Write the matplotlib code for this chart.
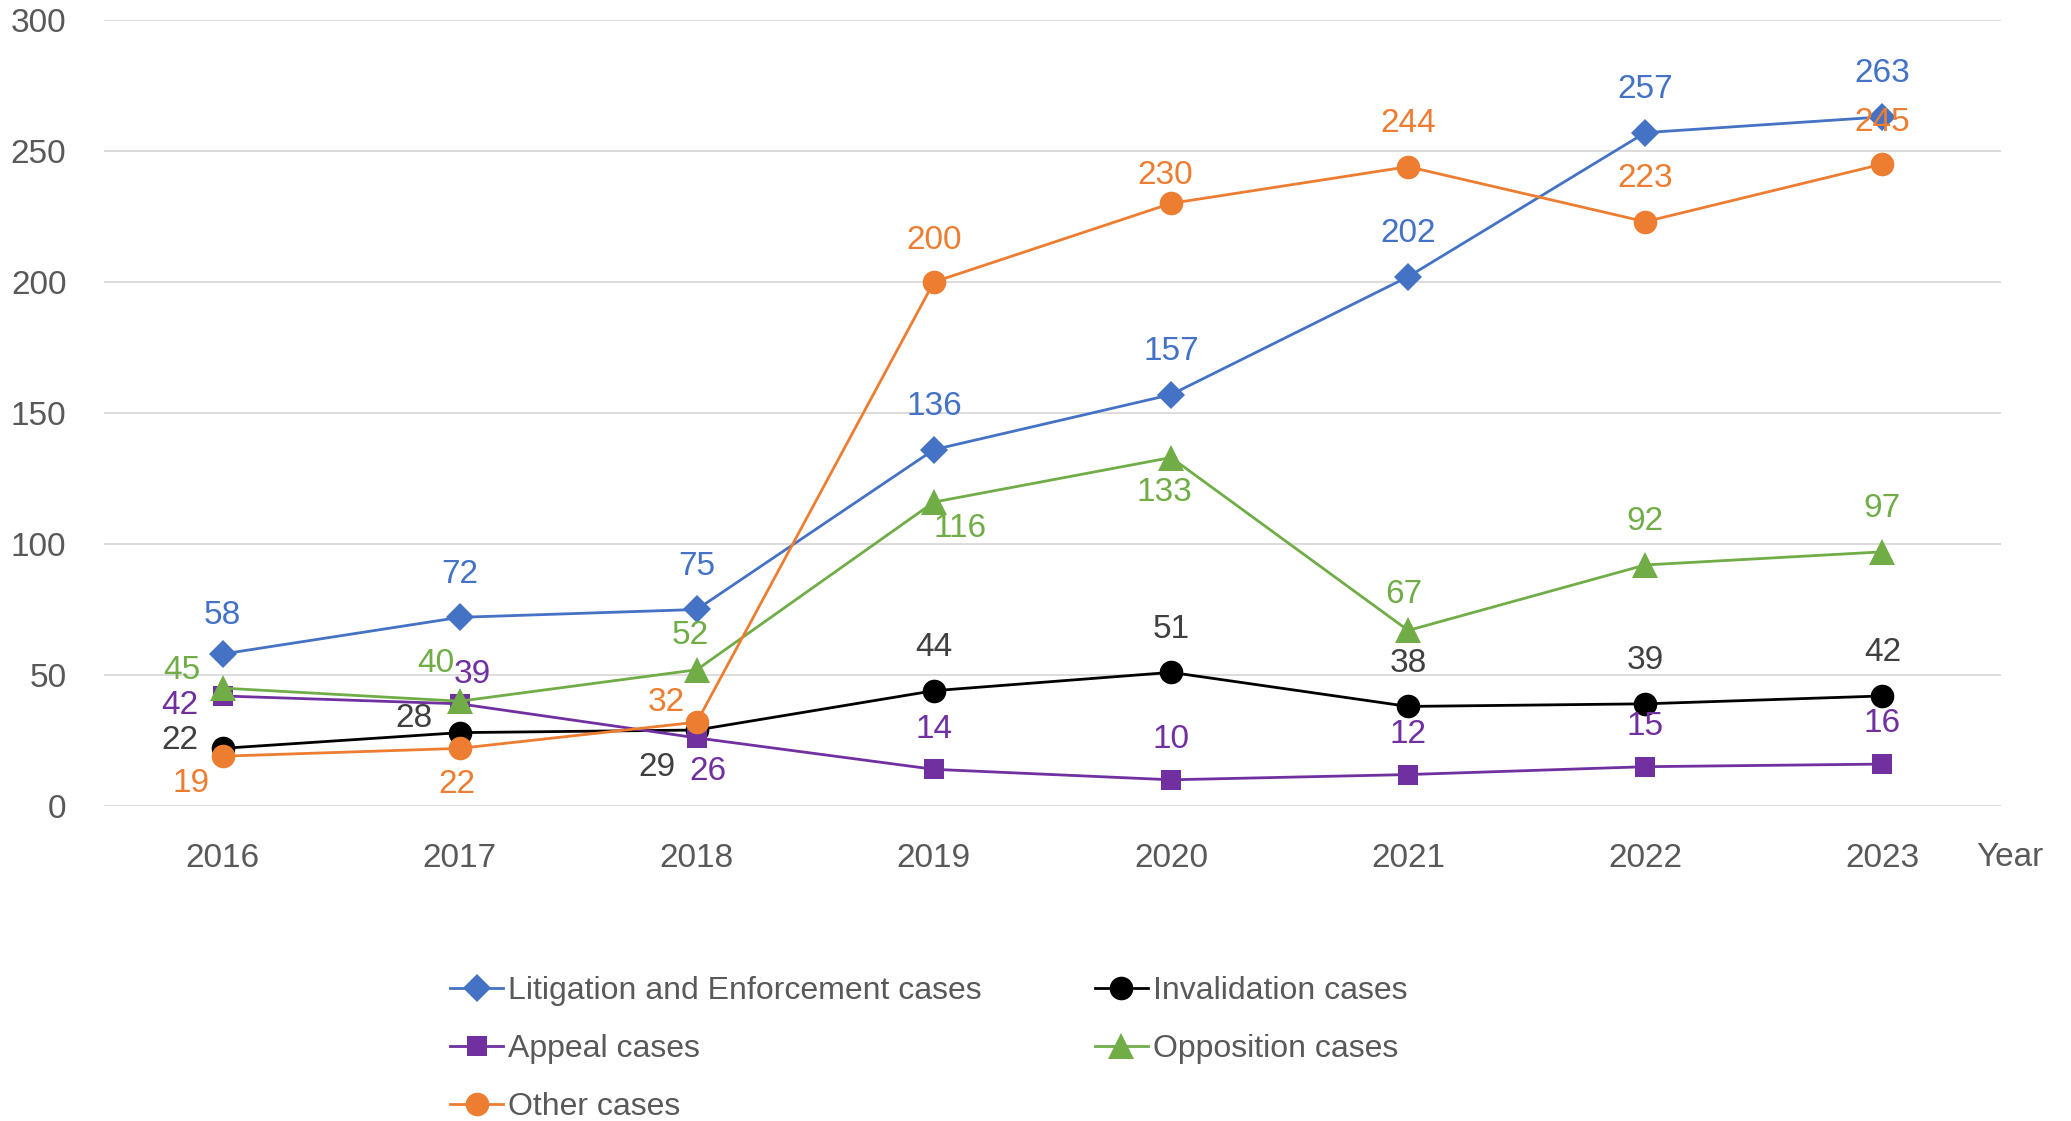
import matplotlib
matplotlib.use("Agg")
import matplotlib.pyplot as plt

# データ
years = ["2016", "2017", "2018", "2019", "2020", "2021", "2022", "2023"]
litigation = [58, 72, 75, 136, 157, 202, 257, 263]
invalidation = [22, 28, 29, 44, 51, 38, 39, 42]
appeal = [42, 39, 26, 14, 10, 12, 15, 16]
opposition = [45, 40, 52, 116, 133, 67, 92, 97]
other = [19, 22, 32, 200, 230, 244, 223, 245]

# ラベル位置 (offset points)
lit_off = [(0, 28)] + [(0, 31)] * 7
inv_off = [(-31, 6), (-33, 10), (-29, -27)] + [(0, 31)] * 5
app_off = [(-31, -7), (9, 21), (8, -24)] + [(0, 29)] * 5
opp_off = [(-29, 13), (-17, 27), (-5, 25), (19, -19), (-5, -25), (-3, 26), (0, 31), (0, 31)]
oth_off = [(-23, -20), (-2, -26), (-22, 14), (0, 30), (-4, 20), (0, 31), (0, 31), (0, 30)]

series = [
    ("Litigation and Enforcement cases", litigation, "#4472C4", "#4472C4", "D", 14, lit_off),
    ("Invalidation cases", invalidation, "#000000", "#404040", "o", 17, inv_off),
    ("Appeal cases", appeal, "#7030A0", "#7030A0", "s", 15, app_off),
    ("Opposition cases", opposition, "#70AD47", "#70AD47", "^", 19, opp_off),
    ("Other cases", other, "#ED7D31", "#ED7D31", "o", 17, oth_off),
]

plt.rcParams['font.family'] = ['Liberation Sans', 'DejaVu Sans']
fs = 24

fig = plt.figure(figsize=(20.71, 11.21), dpi=100)
ax = fig.add_axes([0.0502, 0.2810, 0.9160, 0.7012])

x = list(range(len(years)))
handles = {}
for name, vals, col, tcol, mk, ms, offs in series:
    h, = ax.plot(x, vals, color=col, lw=2, marker=mk, markersize=ms,
                 markeredgewidth=0, label=name, zorder=3)
    handles[name] = h
    for xi, v, (dx, dy) in zip(x, vals, offs):
        ax.annotate(str(v), (xi, v), xytext=(dx, dy), textcoords='offset points',
                    ha='center', va='center', fontsize=fs, color=tcol, zorder=5)

ax.set_xlim(-0.5, len(years) - 0.5)
ax.set_ylim(0, 300)
ax.set_yticks(range(0, 301, 50))
ax.set_xticks(x)
ax.set_xticklabels(years)
ax.grid(axis='y', color='#D9D9D9', lw=1.3, zorder=0)
ax.set_axisbelow(True)
for s in ax.spines.values():
    s.set_visible(False)
ax.tick_params(axis='both', length=0, labelsize=fs, colors='#595959')
ax.tick_params(axis='y', pad=27)
ax.tick_params(axis='x', pad=27)

fig.text(2010 / 2071, 1 - 857 / 1121, "Year", fontsize=fs, color='#595959',
         ha='center', va='center')

order = ["Litigation and Enforcement cases", "Appeal cases", "Other cases",
         "Invalidation cases", "Opposition cases"]
fig.legend([handles[n] for n in order], order, ncol=2, loc='upper left',
           bbox_to_anchor=(450 / 2071, 1 - 976 / 1121), frameon=False,
           fontsize=23, labelcolor='#595959', handlelength=1.66,
           handletextpad=0.15, columnspacing=3.55, labelspacing=0.88,
           borderpad=0, borderaxespad=0)

plt.savefig("out.png", dpi=100)
